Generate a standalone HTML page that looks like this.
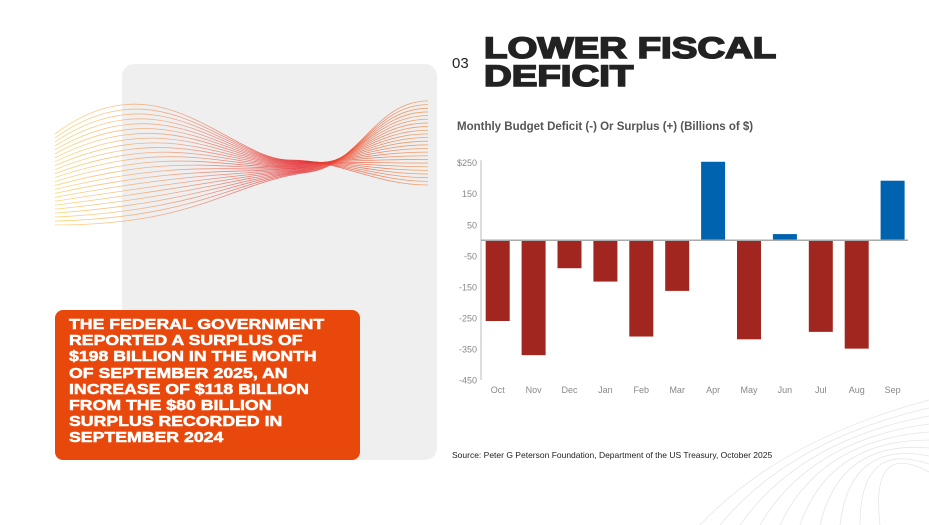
<!DOCTYPE html>
<html><head><meta charset="utf-8"><style>
body{margin:0;width:929px;height:525px;background:#fff;position:relative;overflow:hidden;font-family:"Liberation Sans",sans-serif}
.abs{position:absolute}
</style></head><body>
<div class="abs" style="left:122px;top:64px;width:315px;height:396px;background:#efefef;border-radius:12px"></div>
<svg class="abs" style="left:0;top:0" width="929" height="525" id="waves">
<defs><linearGradient id="wg" gradientUnits="userSpaceOnUse" x1="55" y1="0" x2="430" y2="0">
<stop offset="0" stop-color="#fcc850"/><stop offset="0.35" stop-color="#f08a6a"/><stop offset="0.65" stop-color="#e42a30"/><stop offset="1" stop-color="#f29040"/></linearGradient></defs>
</svg>
<div class="abs" style="left:55px;top:310px;width:305px;height:150px;background:#e8480c;border-radius:8px"></div>
<div class="abs" style="left:69px;top:317px;color:#fff;font-weight:bold;font-size:14.5px;line-height:16.2px;transform:scaleX(1.22);transform-origin:0 0;white-space:nowrap;-webkit-text-stroke:0.5px #fff">THE FEDERAL GOVERNMENT<br>REPORTED A SURPLUS OF<br>$198 BILLION IN THE MONTH<br>OF SEPTEMBER 2025, AN<br>INCREASE OF $118 BILLION<br>FROM THE $80 BILLION<br>SURPLUS RECORDED IN<br>SEPTEMBER 2024</div>
<div class="abs" style="left:452px;top:55px;font-size:15px;color:#222">03</div>
<div class="abs" style="left:484px;top:35px;font-size:30px;line-height:28px;font-weight:900;color:#222;transform:scaleX(1.28);transform-origin:0 0;white-space:nowrap;-webkit-text-stroke:1.6px #222">LOWER FISCAL<br>DEFICIT</div>
<div class="abs" style="left:457px;top:121px;font-size:11.5px;font-weight:bold;color:#555">Monthly Budget Deficit (-) Or Surplus (+) (Billions of $)</div>
<svg class="abs" style="left:0;top:0" width="929" height="525" id="chart"></svg>
<div class="abs" style="left:452px;top:450px;font-size:8.5px;color:#222">Source: Peter G Peterson Foundation, Department of the US Treasury, October 2025</div>
<script>
const months=["Oct","Nov","Dec","Jan","Feb","Mar","Apr","May","Jun","Jul","Aug","Sep"];
const values=[-260,-370,-90,-133,-310,-163,253,-319,20,-295,-349,192];
const tickValues=[250,150,50,-50,-150,-250,-350,-450];
const tickLabels=["$250","150","50","-50","-150","-250","-350","-450"];
const NS="http://www.w3.org/2000/svg";
const svg=document.getElementById('chart');
function y(v){return 240.3-v*0.3104;}
function x(i){return 485.7+i*35.9;}
function mk(t,a){const e=document.createElementNS(NS,t);for(const k in a)e.setAttribute(k,a[k]);svg.appendChild(e);return e;}
let ax=mk('line',{x1:481,x2:481,y1:y(258),y2:y(-450),stroke:'#bbb','stroke-width':1});


tickValues.forEach((v,i)=>{const t=mk('text',{x:477,y:y(v)+3.5,'text-anchor':'end','font-size':9,fill:'#888','font-family':'Liberation Sans'});t.textContent=tickLabels[i];

});
values.forEach((v,i)=>{const r=mk('rect',{x:x(i),width:24,y:Math.min(y(v),y(0)),height:Math.abs(y(v)-y(0)),fill:v>=0?'#0063b0':'#a1261f'});


const t=mk('text',{x:x(i)+12,y:393,'text-anchor':'middle','font-size':9,fill:'#888','font-family':'Liberation Sans'});t.textContent=months[i];

});
let z=mk('line',{x1:481,x2:908,y1:y(0),y2:y(0),stroke:'#aaa','stroke-width':1.5});


// decorative waves
const w=document.getElementById('waves');
const N=24;
for(let k=0;k<N;k++){const f=k/(N-1);
const yL=134+f*91, yR=185-f*84, ym=166+(f-0.5)*12, xm=290+f*20;
const c1=yL-80*(1-f);
const p=document.createElementNS(NS,'path');
p.setAttribute('d',`M55 ${yL} C ${160+40*f} ${c1}, ${230} ${ym+10*f}, ${xm} ${ym} C ${xm+50} ${ym-8*f}, ${375} ${yR}, 428 ${yR}`);
p.setAttribute('fill','none');
p.setAttribute('stroke','url(#wg)');
p.setAttribute('stroke-width','0.8');
p.setAttribute('opacity','0.75');


w.appendChild(p);}
for(let k=0;k<10;k++){const p=document.createElementNS(NS,'path');
p.setAttribute('d',`M${700+k*20} 525 Q ${780+k*10} 440 ${929} ${400+k*8}`);
p.setAttribute('fill','none');p.setAttribute('stroke','#e6e6e6');p.setAttribute('stroke-width','0.8');


w.appendChild(p);}
</script>
</body></html>
